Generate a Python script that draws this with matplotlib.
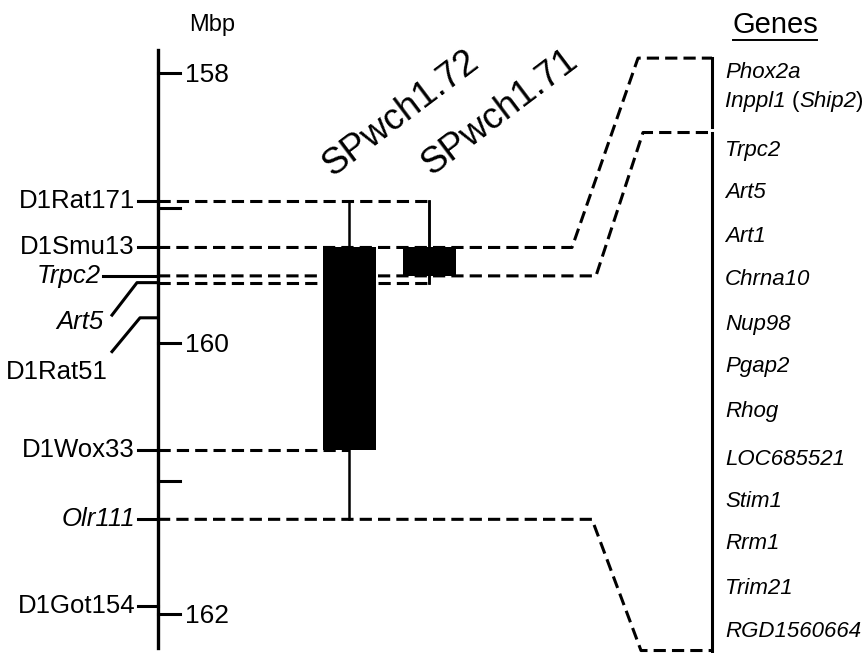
import matplotlib.pyplot as plt
from matplotlib.transforms import offset_copy

plt.rcParams['font.family'] = ['Liberation Sans', 'DejaVu Sans']

# map scale (Mbp)
mbp_ticks = [158, 160, 162]
extra_ticks = [159.0, 161.02]

# markers on the chromosome map
markers = ['D1Rat171', 'D1Smu13', 'Trpc2', 'Art5', 'D1Rat51', 'D1Wox33', 'Olr111', 'D1Got154']
marker_pos = [158.95, 159.29, 159.50, 159.55, 159.81, 160.79, 161.30, 161.94]
marker_italic = [False, False, True, True, False, False, True, False]

# congenic strains: name, x, bar top/bottom, whisker top/bottom
strains = ['SPwch1.72', 'SPwch1.71']
strain_x = [349, 429]
bar_top = [159.29, 159.29]
bar_bottom = [160.79, 159.50]
whisk_top = [158.95, 158.95]
whisk_bottom = [161.30, 159.55]

# genes in the region
genes = ['Phox2a', 'Inppl1 (Ship2)', 'Trpc2', 'Art5', 'Art1', 'Chrna10', 'Nup98',
         'Pgap2', 'Rhog', 'LOC685521', 'Stim1', 'Rrm1', 'Trim21', 'RGD1560664']
gene_y = [158.00, 158.21, 158.57, 158.88, 159.21, 159.53, 159.86,
          160.17, 160.50, 160.86, 161.17, 161.48, 161.81, 162.13]

# links from map to gene list: map position, bend x, panel x, panel position
link_map = [159.29, 159.50, 161.30]
link_bend_x = [572, 596, 592]
link_end_x = [638, 643, 641]
link_gene = [157.89, 158.44, 162.27]
gene_brackets = [(157.89, 158.40), (158.44, 162.27)]

axis_x = 158
dash = (0, (4, 2))
px = 1 / 135.25  # one pixel in Mbp

fig = plt.figure(figsize=(8.65, 6.53), dpi=100)
ax = fig.add_axes([0, 0, 1, 1])
ax.set_xlim(0, 865)
ax.set_ylim(158 + 580 * px, 158 - 73 * px)
ax.axis('off')

# chromosome axis
ax.plot([axis_x, axis_x], [158 - 23 * px, 158 + 575 * px], color='black', lw=2.4)
ax.text(212, 158 - 48 * px, 'Mbp', fontsize=17, ha='center', va='center')
for t in mbp_ticks:
    ax.plot([axis_x, 180], [t, t], color='black', lw=2.2)
    ax.text(185, t + 2 * px, str(t), fontsize=19, ha='left', va='center')
for t in extra_ticks:
    ax.plot([axis_x, 180], [t, t], color='black', lw=2.2)

# marker labels
for name, pos, it in zip(markers, marker_pos, marker_italic):
    style = 'italic' if it else 'normal'
    if name == 'Trpc2':
        ax.plot([103, axis_x], [pos, pos], color='black', lw=2.2)
        ax.text(101, pos, name, fontsize=18.5, style=style, ha='right', va='center')
    elif name == 'Art5':
        ax.plot([112, 137, axis_x], [pos + 0.24, pos, pos], color='black', lw=2.2)
        ax.text(104, pos + 0.29, name, fontsize=18.5, style=style, ha='right', va='center')
    elif name == 'D1Rat51':
        ax.plot([112, 140, axis_x], [pos + 0.25, pos, pos], color='black', lw=2.2)
        ax.text(108, pos + 0.40, name, fontsize=18.5, style=style, ha='right', va='center')
    else:
        ax.plot([138, axis_x], [pos, pos], color='black', lw=2.2)
        ax.text(135, pos, name, fontsize=18.5, style=style, ha='right', va='center')

# dashed lines from the map across the strains
ax.plot([axis_x, strain_x[1]], [marker_pos[0]] * 2, color='black', lw=2.2, ls=dash)
ax.plot([strain_x[1], strain_x[1]], [whisk_top[1], whisk_bottom[1]], color='black', lw=1.8)
ax.plot([axis_x, strain_x[1]], [whisk_bottom[1]] * 2, color='black', lw=2.2, ls=dash)
ax.plot([axis_x, strain_x[0]], [marker_pos[5]] * 2, color='black', lw=2.2, ls=dash)

for m, bx, ex, g in zip(link_map, link_bend_x, link_end_x, link_gene):
    ax.plot([axis_x, bx, ex, 712], [m, m, g, g], color='black', lw=2.2, ls=dash)
for top, bot in gene_brackets:
    ax.plot([712, 712], [top, bot], color='black', lw=2.2)

# strains: whiskers and bars
label_dx = [52, 71]
for name, x, bt, bb, wt, wb, dx in zip(strains, strain_x, bar_top, bar_bottom,
                                       whisk_top, whisk_bottom, label_dx):
    ax.plot([x, x], [wt, wb], color='black', lw=1.8)
    ax.bar(x, bb - bt, bottom=bt, width=53, color='black', zorder=3)
    ax.text(x + dx, 158 + 40 * px, name, fontsize=26.5, rotation=37, ha='center', va='center',
            rotation_mode='anchor')

# gene list
ax.text(775, 158 - 48 * px, 'Genes', fontsize=21, ha='center', va='center')
ax.plot([733, 817], [158 - 33 * px] * 2, color='black', lw=1.4)
renderer = fig.canvas.get_renderer()
for g, y in zip(genes, gene_y):
    if '(' in g:
        # italic gene names, upright parentheses
        a, b = g.split(' (')
        parts = [(a + ' ', 'italic'), ('(', 'normal'), (b.rstrip(')'), 'italic'), (')', 'normal')]
        tr = ax.transData
        for txt, st in parts:
            t = ax.text(725, y, txt, fontsize=16, style=st, ha='left', va='center', transform=tr)
            w = t.get_window_extent(renderer).width
            tr = offset_copy(tr, fig=fig, x=w * 72 / fig.dpi, units='points')
    else:
        ax.text(725, y, g, fontsize=16, style='italic', ha='left', va='center')

fig.savefig('out.png', dpi=100)
